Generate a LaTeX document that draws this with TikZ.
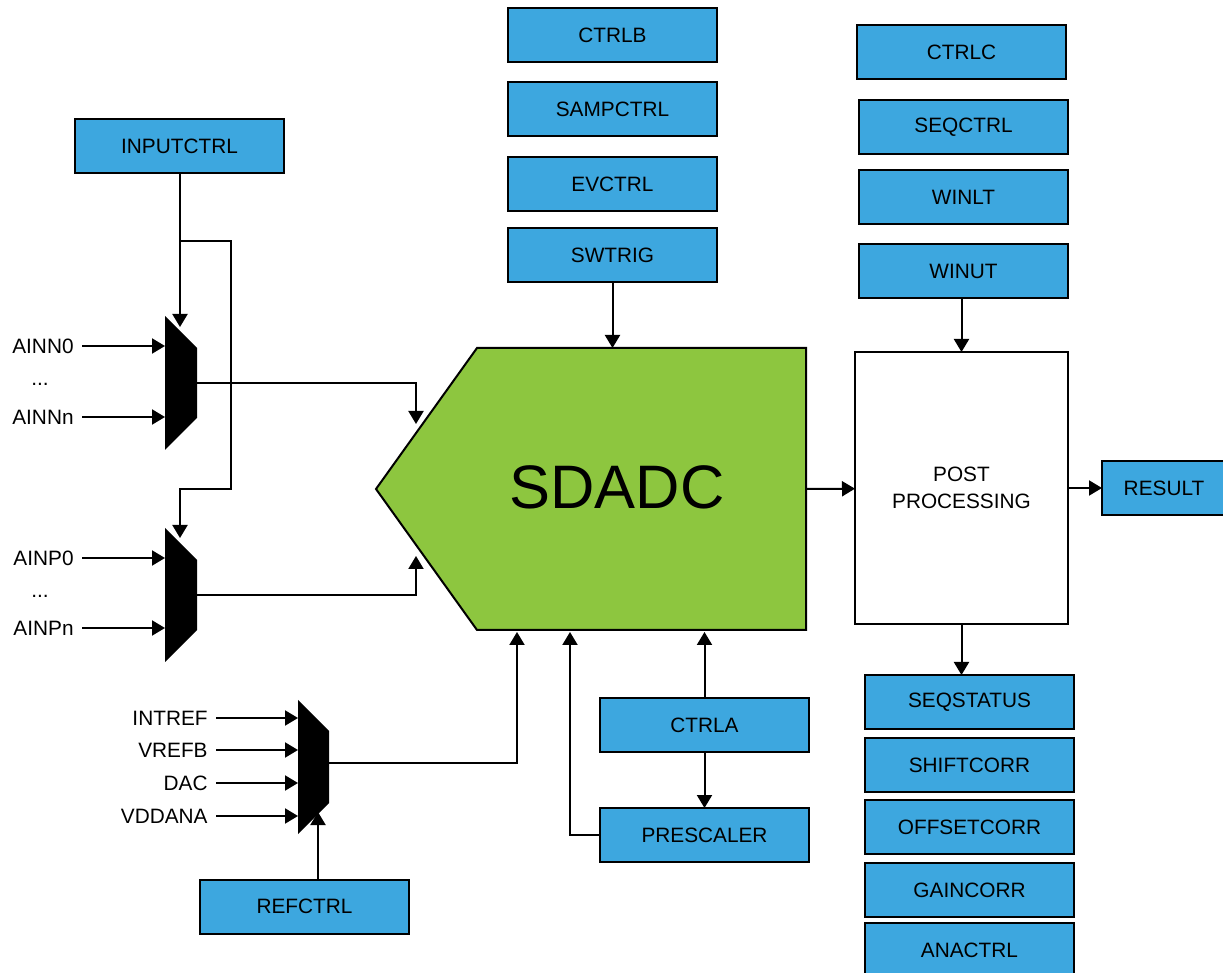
\documentclass[tikz,border=0pt]{standalone}
\usepackage{fontspec}
\setsansfont{Liberation Sans}
\usepackage{xcolor}
\usetikzlibrary{arrows.meta,positioning}
\definecolor{regblue}{HTML}{3DA7DF}
\definecolor{adcgreen}{HTML}{8DC63F}

\begin{document}
\begin{tikzpicture}[x=0.5pt,y=-0.5pt,
reg/.style={draw,line width=1pt,fill=regblue,minimum width=104.5pt,minimum height=27pt,outer sep=0pt,inner sep=0pt,font=\sffamily\fontsize{10.4}{12}\selectfont},
lbl/.style={inner sep=4pt,font=\sffamily\fontsize{10.4}{12}\selectfont},
arr/.style={-{Triangle[length=6.5pt,width=7.5pt]},line width=1pt}]
\useasboundingbox (0,0) rectangle (1223,973);
\draw[line width=1pt,fill=adcgreen] (477,348) -- (806,348) -- (806,630) -- (477,630) -- (376,489) -- cycle;
\node[font=\sffamily\fontsize{30.7}{36}\selectfont] (sdadc) at (617,487) {SDADC};
\coordinate (adcin) at (612.5,348); \coordinate (adcout) at (806,489); \coordinate (adcn) at (416,424); \coordinate (adcp) at (416,556); \coordinate (adcr) at (517,632); \coordinate (adcpre) at (570,632);
\fill (165,316) -- ++(32,32) -- ++(0,70) -- ++(-32,32) -- cycle;
\fill (165,528) -- ++(32,32) -- ++(0,70) -- ++(-32,32) -- cycle;
\fill (298,700) -- ++(31,31) -- ++(0,72) -- ++(-31,31) -- cycle;
\coordinate (muxnsel) at (180,327); \coordinate (muxnout) at (197,383);
\coordinate (muxpsel) at (180,538); \coordinate (muxpout) at (197,595);
\coordinate (muxrsel) at (318,812); \coordinate (muxrout) at (329,763);
\node[reg] (ctrlb) at (612.5,35) {CTRLB};
\node[reg,below=10.25pt of ctrlb] (sampctrl) {SAMPCTRL};
\node[reg,below=10.25pt of sampctrl] (evctrl) {EVCTRL};
\node[reg,below=8.5pt of evctrl] (swtrig) {SWTRIG};
\node[reg] (ctrlc) at (961.5,52.5) {CTRLC};
\node[reg] (seqctrl) at (963.5,127) {SEQCTRL};
\node[reg,below=8.25pt of seqctrl] (winlt) {WINLT};
\node[reg,below=9.75pt of winlt] (winut) {WINUT};
\node[reg] (inputctrl) at (179.5,146.5) {INPUTCTRL};
\node[reg] (refctrl) at (304.5,906.5) {REFCTRL};
\node[reg] (ctrla) at (704.5,725) {CTRLA};
\node[reg,below=28pt of ctrla] (prescaler) {PRESCALER};
\node[draw,line width=1pt,fill=white,minimum width=106.5pt,minimum height=136pt,outer sep=0pt,align=center,font=\sffamily\fontsize{10.4}{13.5}\selectfont] (post) at (961.5,488) {POST\\PROCESSING};
\node[reg,minimum width=62pt] (result) at (1164,488) {RESULT};
\node[reg] (seqstatus) at (969.5,702) {SEQSTATUS};
\node[reg,below=4.5pt of seqstatus] (shiftcorr) {SHIFTCORR};
\node[reg,below=4pt of shiftcorr] (offsetcorr) {OFFSETCORR};
\node[reg,below=4.5pt of offsetcorr] (gaincorr) {GAINCORR};
\node[reg,below=3pt of gaincorr] (anactrl) {ANACTRL};
\foreach \t/\y in {AINN0/346,AINNn/417,AINP0/558,AINPn/628} {\node[lbl,anchor=east] (\t) at (82,\y) {\t}; \coordinate (pin\t) at (165,\y); \draw[arr] (\t) -- (pin\t);}
\node[lbl] (dotsn) at (40,384) {...}; \node[lbl] (dotsp) at (40,596) {...};
\foreach \t/\y in {INTREF/718,VREFB/750,DAC/783,VDDANA/816} {\node[lbl,anchor=east] (\t) at (216,\y) {\t}; \coordinate (pin\t) at (298,\y); \draw[arr] (\t) -- (pin\t);}
\coordinate (split) at (180,241); \coordinate (jog) at (231,489);
\draw[arr] (inputctrl.south -| muxnsel) -- (muxnsel); \draw[arr] (split) -| (jog) -| (muxpsel);
\draw[arr] (muxnout) -| (adcn); \draw[arr] (muxpout) -| (adcp); \draw[arr] (muxrout) -| (adcr);
\draw[arr] (refctrl.north -| muxrsel) -- (muxrsel);
\draw[arr] (swtrig) -- (adcin); \draw[arr] (adcout) -- (post); \draw[arr] (post) -- (result);
\draw[arr] (winut.south -| post) -- (post); \draw[arr] (post) -- (post |- seqstatus.north);
\draw[arr] (ctrla) -- (ctrla |- adcr); \draw[arr] (ctrla) -- (prescaler); \draw[arr] (prescaler) -| (adcpre);
\end{tikzpicture}
\end{document}
